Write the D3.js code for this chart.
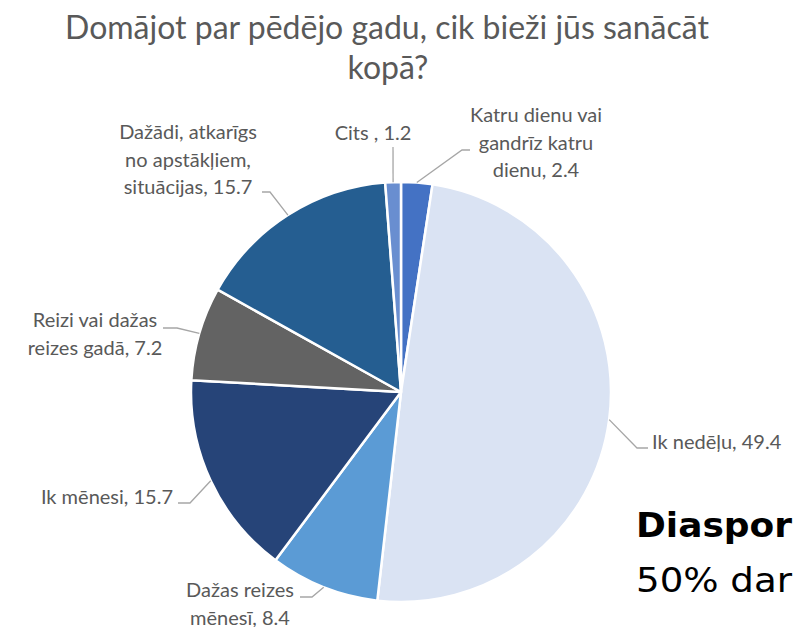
<!DOCTYPE html>
<html>
<head>
<meta charset="utf-8">
<script src="https://cdn.jsdelivr.net/npm/d3@7"></script>
<style>
  body { margin: 0; background: #fff; overflow: hidden; }
  text { font-family: Lato, "Open Sans", sans-serif; }
</style>
</head>
<body>
<div id="chart"></div>
<script>
// Answers, clockwise from 12 o'clock.
var categories = [
  "Katru dienu vai gandrīz katru dienu",
  "Ik nedēļu",
  "Dažas reizes mēnesī",
  "Ik mēnesi",
  "Reizi vai dažas reizes gadā",
  "Dažādi, atkarīgs no apstākļiem, situācijas",
  "Cits "
];
var shares = [2.4, 49.4, 8.4, 15.7, 7.2, 15.7, 1.2];
var colors = ["#4472C4", "#DAE3F3", "#5B9BD5", "#264478", "#636363", "#255E91", "#698ED0"];

// How each label is wrapped and where it sits (hand placed, as in the original).
var labelLines = [
  ["Katru dienu vai", "gandrīz katru", "dienu, 2.4"],
  ["Ik nedēļu, 49.4"],
  ["Dažas reizes", "mēnesī, 8.4"],
  ["Ik mēnesi, 15.7"],
  ["Reizi vai dažas", "reizes gadā, 7.2"],
  ["Dažādi, atkarīgs", "no apstākļiem,", "situācijas, 15.7"],
  ["Cits , 1.2"]
];
var labelLayout = [
  { x: 536, y: 122, anchor: "middle", elbow: [462, 150], end: [470, 150] },
  { x: 652, y: 449, anchor: "start",  elbow: [637, 448], end: [648, 448] },
  { x: 240, y: 597, anchor: "middle", elbow: [312, 597], end: [300, 597] },
  { x: 173, y: 504, anchor: "end",    elbow: [190, 503], end: [178, 503] },
  { x: 95,  y: 327, anchor: "middle", elbow: [177, 328], end: [163, 328] },
  { x: 188, y: 139, anchor: "middle", elbow: [270, 192], end: [262, 192] },
  { x: 373, y: 140, anchor: "middle", elbow: null,       end: [393, 147] }
];

// Slide text that runs off the right edge (only its visible part).
var slideLines = ["Diaspor", "50% dar"];

var width = 795, height = 627;
var cx = 401, cy = 392, radius = 210;

var svg = d3.select("#chart").append("svg")
  .attr("width", width)
  .attr("height", height);

// Title.
svg.append("text")
  .attr("x", 387)
  .attr("y", 39)
  .attr("text-anchor", "middle")
  .attr("fill", "#595959")
  .style("font-size", "32px")
  .text("Domājot par pēdējo gadu, cik bieži jūs sanācāt");
svg.append("text")
  .attr("x", 388)
  .attr("y", 79)
  .attr("text-anchor", "middle")
  .attr("fill", "#595959")
  .style("font-size", "32px")
  .text("kopā?");

var pie = d3.pie().sort(null).value(function(d) { return d; });
var arcs = pie(shares);
var arc = d3.arc().innerRadius(0).outerRadius(radius);
var edge = d3.arc().innerRadius(radius).outerRadius(radius);

var g = svg.append("g")
  .attr("transform", "translate(" + cx + "," + cy + ")");

g.selectAll("path.slice")
  .data(arcs)
  .enter().append("path")
  .attr("class", "slice")
  .attr("d", arc)
  .attr("fill", function(d, i) { return colors[i]; })
  .attr("stroke", "#fff")
  .attr("stroke-width", 2.5)
  .attr("stroke-linejoin", "round");

// Leader lines from the rim to the labels.
svg.selectAll("path.leader")
  .data(arcs)
  .enter().append("path")
  .attr("class", "leader")
  .attr("fill", "none")
  .attr("stroke", "#A6A6A6")
  .attr("stroke-width", 1.3)
  .attr("d", function(d, i) {
    var c = edge.centroid(d);
    var p = [[cx + c[0], cy + c[1]]];
    var l = labelLayout[i];
    if (l.elbow) p.push(l.elbow);
    p.push(l.end);
    return d3.line()(p);
  });

// Labels.
var labels = svg.selectAll("text.label")
  .data(arcs)
  .enter().append("text")
  .attr("class", "label")
  .attr("fill", "#595959")
  .style("font-size", "20px")
  .attr("text-anchor", function(d, i) { return labelLayout[i].anchor; })
  .attr("x", function(d, i) { return labelLayout[i].x; })
  .attr("y", function(d, i) { return labelLayout[i].y; });

labels.each(function(d, i) {
  var t = d3.select(this);
  labelLines[i].forEach(function(line, j) {
    t.append("tspan")
      .attr("x", labelLayout[i].x)
      .attr("dy", j === 0 ? 0 : 27.5)
      .text(line);
  });
});

// Slide text that overlaps the chart on the right.
svg.selectAll("text.slide")
  .data(slideLines)
  .enter().append("text")
  .attr("class", "slide")
  .attr("x", 636)
  .attr("y", function(d, i) { return i === 0 ? 537 : 592; })
  .attr("fill", "#000")
  .style("font-family", "'DejaVu Sans', sans-serif")
  .style("font-size", "34px")
  .style("font-weight", function(d, i) { return i === 0 ? "bold" : "normal"; })
  .attr("textLength", 156)
  .attr("lengthAdjust", "spacingAndGlyphs")
  .text(function(d) { return d; });
</script>
</body>
</html>
